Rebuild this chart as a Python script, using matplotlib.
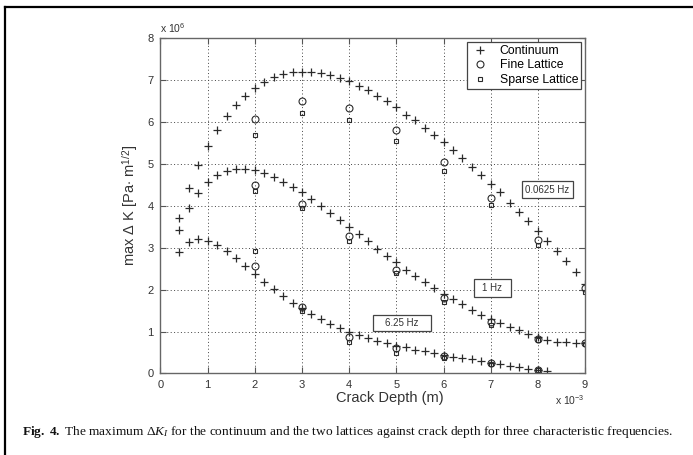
import matplotlib
matplotlib.use("Agg")
import matplotlib.pyplot as plt
from matplotlib.patches import Rectangle
from matplotlib.lines import Line2D

plt.rcParams['font.family'] = ['Liberation Sans', 'DejaVu Sans']
plt.rcParams['mathtext.fontset'] = 'custom'
plt.rcParams['mathtext.rm'] = 'Liberation Sans'
plt.rcParams['mathtext.it'] = 'Liberation Serif:italic'
plt.rcParams['mathtext.bf'] = 'Liberation Serif:bold'

# crack depth in 1e-3 m, max dK in 1e6 Pa m^1/2
depth_low = [0.4, 0.6, 0.8, 1.0, 1.2, 1.4, 1.6, 1.8, 2.0, 2.2, 2.4, 2.6, 2.8, 3.0,
             3.2, 3.4, 3.6, 3.8, 4.0, 4.2, 4.4, 4.6, 4.8, 5.0, 5.2, 5.4, 5.6, 5.8,
             6.0, 6.2, 6.4, 6.6, 6.8, 7.0, 7.2, 7.4, 7.6, 7.8, 8.0, 8.2]
depth_full = depth_low + [8.4, 8.6, 8.8, 9.0]

cont_00625 = [3.72, 4.42, 4.97, 5.43, 5.82, 6.14, 6.41, 6.63, 6.81, 6.95, 7.07, 7.14,
              7.19, 7.20, 7.19, 7.16, 7.12, 7.05, 6.98, 6.87, 6.76, 6.63, 6.50, 6.35,
              6.18, 6.05, 5.87, 5.69, 5.52, 5.34, 5.14, 4.93, 4.73, 4.52, 4.32, 4.08,
              3.86, 3.64, 3.41, 3.16, 2.93, 2.68, 2.42, 2.13]
cont_1 = [3.42, 3.95, 4.31, 4.58, 4.73, 4.84, 4.88, 4.89, 4.85, 4.79, 4.69, 4.58,
          4.46, 4.32, 4.17, 4.00, 3.83, 3.66, 3.49, 3.32, 3.15, 2.98, 2.81, 2.65,
          2.48, 2.33, 2.19, 2.04, 1.89, 1.78, 1.65, 1.52, 1.40, 1.30, 1.21, 1.12,
          1.03, 0.95, 0.88, 0.80, 0.76, 0.74, 0.73, 0.72]
cont_625 = [2.90, 3.14, 3.20, 3.16, 3.06, 2.92, 2.75, 2.56, 2.37, 2.19, 2.01, 1.84,
            1.67, 1.55, 1.42, 1.29, 1.18, 1.08, 0.98, 0.92, 0.84, 0.77, 0.72, 0.66,
            0.62, 0.57, 0.53, 0.48, 0.43, 0.40, 0.37, 0.34, 0.30, 0.26, 0.22, 0.18,
            0.15, 0.11, 0.08, 0.06]

lat_depth = [2, 3, 4, 5, 6, 7, 8, 9]
fine_00625 = [6.07, 6.51, 6.33, 5.80, 5.05, 4.18, 3.18, 2.03]
fine_1 = [4.51, 4.04, 3.28, 2.48, 1.79, 1.23, 0.83, 0.72]
fine_625 = [2.57, 1.59, 0.88, 0.60, 0.42, 0.26, 0.08]
sparse_00625 = [5.68, 6.21, 6.05, 5.55, 4.84, 4.01, 3.06, 1.95]
sparse_1 = [4.36, 3.96, 3.17, 2.40, 1.71, 1.16, 0.80, 0.70]
sparse_625 = [2.93, 1.50, 0.74, 0.49, 0.38, 0.23, 0.07]

freq_labels = ['0.0625 Hz', '1 Hz', '6.25 Hz']
xticks = [0, 1, 2, 3, 4, 5, 6, 7, 8, 9]
yticks = [0, 1, 2, 3, 4, 5, 6, 7, 8]

mk = '#2b2b2b'
fig = plt.figure(figsize=(6.93, 4.55), dpi=100)
ax = fig.add_axes([0.2316, 0.1793, 0.6126, 0.7365])

for y in [cont_00625, cont_1]:
    ax.plot(depth_full, y, ls='none', marker='+', ms=5.5, mew=0.9, color=mk)
ax.plot(depth_low, cont_625, ls='none', marker='+', ms=5.5, mew=0.9, color=mk)
for y in [fine_00625, fine_1, fine_625]:
    ax.plot(lat_depth[:len(y)], y, ls='none', marker='o', ms=5, mfc='none', mew=0.8, color=mk)
for y in [sparse_00625, sparse_1, sparse_625]:
    ax.plot(lat_depth[:len(y)], y, ls='none', marker='s', ms=3.5, mfc='none', mew=0.8, color=mk)

ax.set_xlim(0, 9)
ax.set_ylim(0, 8)
ax.set_xticks(xticks)
ax.set_yticks(yticks)
ax.tick_params(direction='in', length=4, width=0.8, top=True, right=True,
               labelsize=8, labelcolor='#333333', color='#555555', pad=5)
ax.grid(True, linestyle=(0, (1, 2.5)), color='#444444', linewidth=0.7)
for s in ax.spines.values():
    s.set_color('#666666')
    s.set_linewidth(1.0)

handles = [Line2D([], [], ls='none', marker='+', ms=5.5, mew=0.9, color=mk),
           Line2D([], [], ls='none', marker='o', ms=5, mfc='none', mew=0.8, color=mk),
           Line2D([], [], ls='none', marker='s', ms=3.5, mfc='none', mew=0.8, color=mk)]
leg = ax.legend(handles, ['Continuum', 'Fine Lattice', 'Sparse Lattice'], loc='upper right',
                fontsize=8.8, fancybox=False, framealpha=1, edgecolor='#444444',
                borderaxespad=0.3, handlelength=1.6, handletextpad=0.8,
                borderpad=0.25, labelspacing=0.2)
leg.get_frame().set_linewidth(0.9)

# frequency label boxes (x0, x1, y0, y1 in data units)
boxes = [(7.655, 8.744, 4.18, 4.59), (6.641, 7.420, 1.83, 2.25), (4.497, 5.737, 1.02, 1.39)]
for (x0, x1, y0, y1), lab in zip(boxes, freq_labels):
    ax.add_patch(Rectangle((x0, y0), x1 - x0, y1 - y0, fill=True, fc='white',
                           ec='#444444', lw=0.9, zorder=5))
    ax.text((x0 + x1) / 2, (y0 + y1) / 2, lab, ha='center', va='center',
            fontsize=7, color='#333333', zorder=6)

fig.text(160 / 693, 1 - 33 / 455, r'x 10$^{6}$', fontsize=7.5, color='#333333',
         ha='left', va='baseline')
fig.text(585 / 693, 1 - 405 / 455, r'x 10$^{-3}$', fontsize=7.5, color='#333333',
         ha='right', va='baseline')
fig.text(390 / 693, 1 - 398 / 455, 'Crack Depth (m)', fontsize=10.5, color='#333333',
         ha='center', va='center')
fig.text(131 / 693, 1 - 205 / 455, r'max Δ K [Pa$\cdot$ m$^{1/2}$]', fontsize=10.5,
         color='#333333', ha='center', va='center', rotation=90)

fig.text(22 / 693, 1 - 432 / 455,
         r'$\mathbf{Fig.\ 4.}$ The maximum Δ$K_I$ for the continuum and the two lattices '
         r'against crack depth for three characteristic frequencies.',
         fontsize=9.6, family='Liberation Serif', color='#111111', ha='left', va='center')

# page frame (top and left edges)
fig.add_artist(Line2D([5 / 693, 1], [1 - 7 / 455, 1 - 7 / 455], color='black', lw=1.6))
fig.add_artist(Line2D([5 / 693, 5 / 693], [0, 1 - 7 / 455], color='black', lw=1.6))

fig.savefig('out.png', dpi=100)
